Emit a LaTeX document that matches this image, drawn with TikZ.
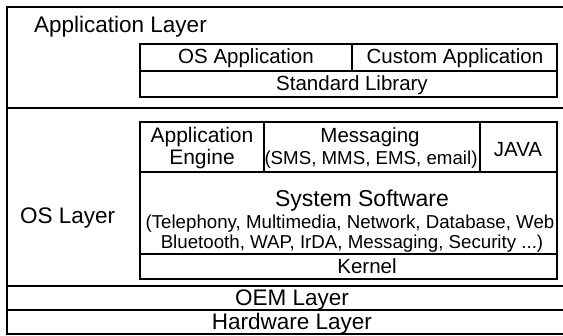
\documentclass[tikz,border=0pt]{standalone}
\usepackage{fontspec}
\setmainfont{Liberation Sans}
\begin{document}
\begin{tikzpicture}[x=1pt,y=-1pt,
  outer/.style={line width=1.9pt},
  inner/.style={line width=1.5pt},
  lbl/.style={inner sep=0pt,anchor=base},
  big/.style={font=\fontsize{22.5}{24}\selectfont},
  mid/.style={font=\fontsize{20.5}{22}\selectfont},
  sml/.style={font=\fontsize{18.7}{20}\selectfont}]
\useasboundingbox (0,0) rectangle (563,336);
% outer frame and layer separators
\draw[outer] (563,7) -- (7,7) -- (7,334) -- (563,334);
\draw[outer] (7,108) -- (563,108);
\draw[outer] (7,286) -- (563,286);
\draw[outer] (7,310) -- (563,310);
% application layer boxes
\draw[inner] (140,44) rectangle (557,97);
\draw[inner] (140,71) -- (557,71);
\draw[inner] (352,44) -- (352,71);
% OS layer boxes
\draw[inner] (140,122) rectangle (557,279);
\draw[inner] (140,172) -- (557,172);
\draw[inner] (140,254) -- (557,254);
\draw[inner] (264,122) -- (264,172);
\draw[inner] (480,122) -- (480,172);
% texts
\node[lbl,big,anchor=base west] (applayer) at (34,33) {Application Layer};
\node[lbl,mid] (osapp) at (246,64) {OS Application};
\node[lbl,mid] (custapp) at (455,64) {Custom Application};
\node[lbl,mid] (stdlib) at (352,91) {Standard Library};
\node[lbl,big,anchor=base west] (oslayer) at (20,224) {OS Layer};
\node[lbl,font=\fontsize{21}{22}\selectfont] (appeng1) at (202,143) {Application};
\node[lbl,font=\fontsize{21}{22}\selectfont] (appeng2) at (202,165) {Engine};
\node[lbl,mid] (msg1) at (370,143) {Messaging};
\node[lbl,sml] (msg2) at (371,165) {(SMS, MMS, EMS, email)};
\node[lbl,mid] (java) at (518,157) {JAVA};
\node[lbl,font=\fontsize{23}{24}\selectfont] (syssw) at (362,207) {System Software};
\node[lbl,sml] (sysl1) at (350,229) {(Telephony, Multimedia, Network, Database, Web};
\node[lbl,sml] (sysl2) at (352,249) {Bluetooth, WAP, IrDA, Messaging, Security ...)};
\node[lbl,mid] (kernel) at (367,274) {Kernel};
\node[lbl,big] (oem) at (292,306) {OEM Layer};
\node[lbl,big] (hw) at (292,330) {Hardware Layer};
\end{tikzpicture}
\end{document}
